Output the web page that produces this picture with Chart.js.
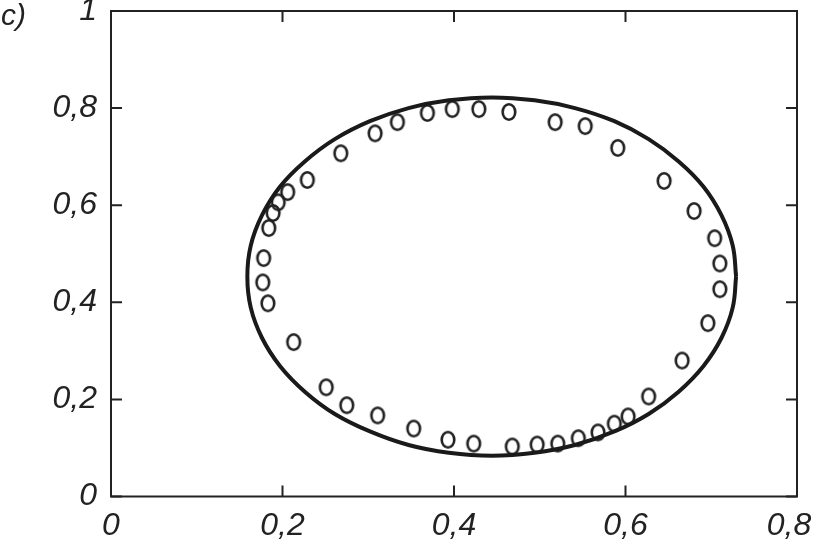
<!DOCTYPE html>
<html>
<head>
<meta charset="utf-8">
<script src="https://cdn.jsdelivr.net/npm/chart.js@4.4.1/dist/chart.umd.min.js"></script>
<style>
  html, body { margin: 0; padding: 0; background: #fff; }
  canvas { display: block; }
</style>
</head>
<body>
<canvas id="ellipseChart" width="813" height="540"></canvas>
<script>
// measured points (open circles)
const markerX = [0.229, 0.206, 0.195, 0.189, 0.184, 0.178, 0.177, 0.183, 0.213,
  0.251, 0.275, 0.311, 0.353, 0.393, 0.423, 0.468, 0.497, 0.521, 0.545, 0.568, 0.587,
  0.603, 0.627, 0.666, 0.696, 0.710, 0.710, 0.704, 0.680, 0.645,
  0.591, 0.553, 0.518, 0.464, 0.429, 0.398, 0.369, 0.334, 0.308, 0.268]
const markerY = [0.652, 0.627, 0.606, 0.584, 0.553, 0.491, 0.441, 0.398, 0.318,
  0.225, 0.188, 0.167, 0.140, 0.117, 0.109, 0.103, 0.107, 0.109, 0.120, 0.132, 0.150,
  0.165, 0.206, 0.280, 0.357, 0.427, 0.480, 0.532, 0.588, 0.650,
  0.718, 0.763, 0.771, 0.792, 0.798, 0.798, 0.790, 0.771, 0.748, 0.707]

// fitted ellipse
const ellipseX = [0.729, 0.725, 0.712, 0.691, 0.662, 0.627, 0.587, 0.541, 0.494,
  0.444, 0.394, 0.347, 0.302, 0.261, 0.226, 0.197, 0.176, 0.163,
  0.159, 0.163, 0.176, 0.197, 0.226, 0.261, 0.302, 0.347, 0.394,
  0.444, 0.494, 0.541, 0.587, 0.627, 0.662, 0.691, 0.712, 0.725, 0.729]
const ellipseY = [0.453, 0.517, 0.579, 0.638, 0.690, 0.736, 0.773, 0.800, 0.816,
  0.822, 0.816, 0.800, 0.773, 0.736, 0.690, 0.638, 0.579, 0.517,
  0.453, 0.389, 0.327, 0.269, 0.216, 0.170, 0.134, 0.106, 0.090,
  0.084, 0.090, 0.106, 0.134, 0.170, 0.216, 0.269, 0.327, 0.389, 0.453]

const xTickValues = [0, 0.2, 0.4, 0.6, 0.8]
const xTickLabels = ["0", "0,2", "0,4", "0,6", "0,8\u2002"]  // en space keeps the last one inside the page
const yTickValues = [0, 0.2, 0.4, 0.6, 0.8, 1]
const yTickLabels = ["0", "0,2", "0,4", "0,6", "0,8", "1"]
const panelLabel = "c)"

const ink = "#222"
const labelFont = { family: "'Liberation Sans', Arial, sans-serif", size: 32, style: "italic" }

// open oval marker
const marker = document.createElement("canvas")
marker.width = 20
marker.height = 22
const mctx = marker.getContext("2d")
mctx.strokeStyle = ink
mctx.lineWidth = 2.6
mctx.beginPath()
mctx.ellipse(10, 11, 6.3, 7.8, 0, 0, Math.PI * 2)
mctx.stroke()

const toPoints = (xs, ys) => xs.map((x, i) => ({ x: x, y: ys[i] }))

// frame with inward ticks on all four sides + panel letter
const framePlugin = {
  id: "frame",
  afterDraw(chart) {
    const { ctx, chartArea: a, scales } = chart
    const len = 11
    ctx.save()
    ctx.strokeStyle = ink
    ctx.lineWidth = 2
    ctx.strokeRect(a.left, a.top, a.right - a.left, a.bottom - a.top)
    ctx.beginPath()
    xTickValues.forEach(v => {
      const px = scales.x.getPixelForValue(v)
      ctx.moveTo(px, a.bottom); ctx.lineTo(px, a.bottom - len)
      ctx.moveTo(px, a.top); ctx.lineTo(px, a.top + len)
    })
    yTickValues.forEach(v => {
      const py = scales.y.getPixelForValue(v)
      ctx.moveTo(a.left, py); ctx.lineTo(a.left + len, py)
      ctx.moveTo(a.right, py); ctx.lineTo(a.right - len, py)
    })
    ctx.stroke()
    ctx.fillStyle = ink
    ctx.font = "italic 30px 'Liberation Sans', Arial, sans-serif"
    ctx.textBaseline = "alphabetic"
    ctx.fillText(panelLabel, 1, 25)
    ctx.restore()
  }
}

const config = {
  type: "scatter",
  data: {
    datasets: [
      {
        label: "ellipse",
        data: toPoints(ellipseX, ellipseY),
        showLine: true,
        tension: 0.4,
        borderColor: "#1a1a1a",
        borderWidth: 4,
        pointRadius: 0,
        fill: false,
      },
      {
        label: "points",
        data: toPoints(markerX, markerY),
        showLine: false,
        pointStyle: marker,
        pointRadius: 8,
      },
    ],
  },
  options: {
    responsive: false,
    animation: false,
    layout: { padding: { left: 0, right: 16, top: 11, bottom: 0 } },
    plugins: { legend: { display: false }, tooltip: { enabled: false } },
    scales: {
      x: {
        type: "linear",
        min: 0,
        max: 0.8,
        grid: { display: false, drawTicks: false },
        border: { display: false },
        afterBuildTicks: s => { s.ticks = xTickValues.map(v => ({ value: v })) },
        afterFit: s => {
          s.height = 43.5
          s.paddingLeft = 0; s.paddingRight = 0
        },
        ticks: {
          padding: 10,
          color: ink,
          font: labelFont,
          maxRotation: 0,
          autoSkip: false,
          callback: (v, i) => xTickLabels[i],
        },
      },
      y: {
        type: "linear",
        min: 0,
        max: 1,
        grid: { display: false, drawTicks: false },
        border: { display: false },
        afterBuildTicks: s => { s.ticks = yTickValues.map(v => ({ value: v })) },
        afterFit: s => {
          s.width = 111
          s.paddingTop = 0; s.paddingBottom = 0
        },
        ticks: {
          padding: 14,
          color: ink,
          font: labelFont,
          autoSkip: false,
          callback: (v, i) => yTickLabels[i],
        },
      },
    },
  },
  plugins: [framePlugin],
}

const ellipseChart = new Chart(document.getElementById("ellipseChart"), config)
</script>
</body>
</html>
